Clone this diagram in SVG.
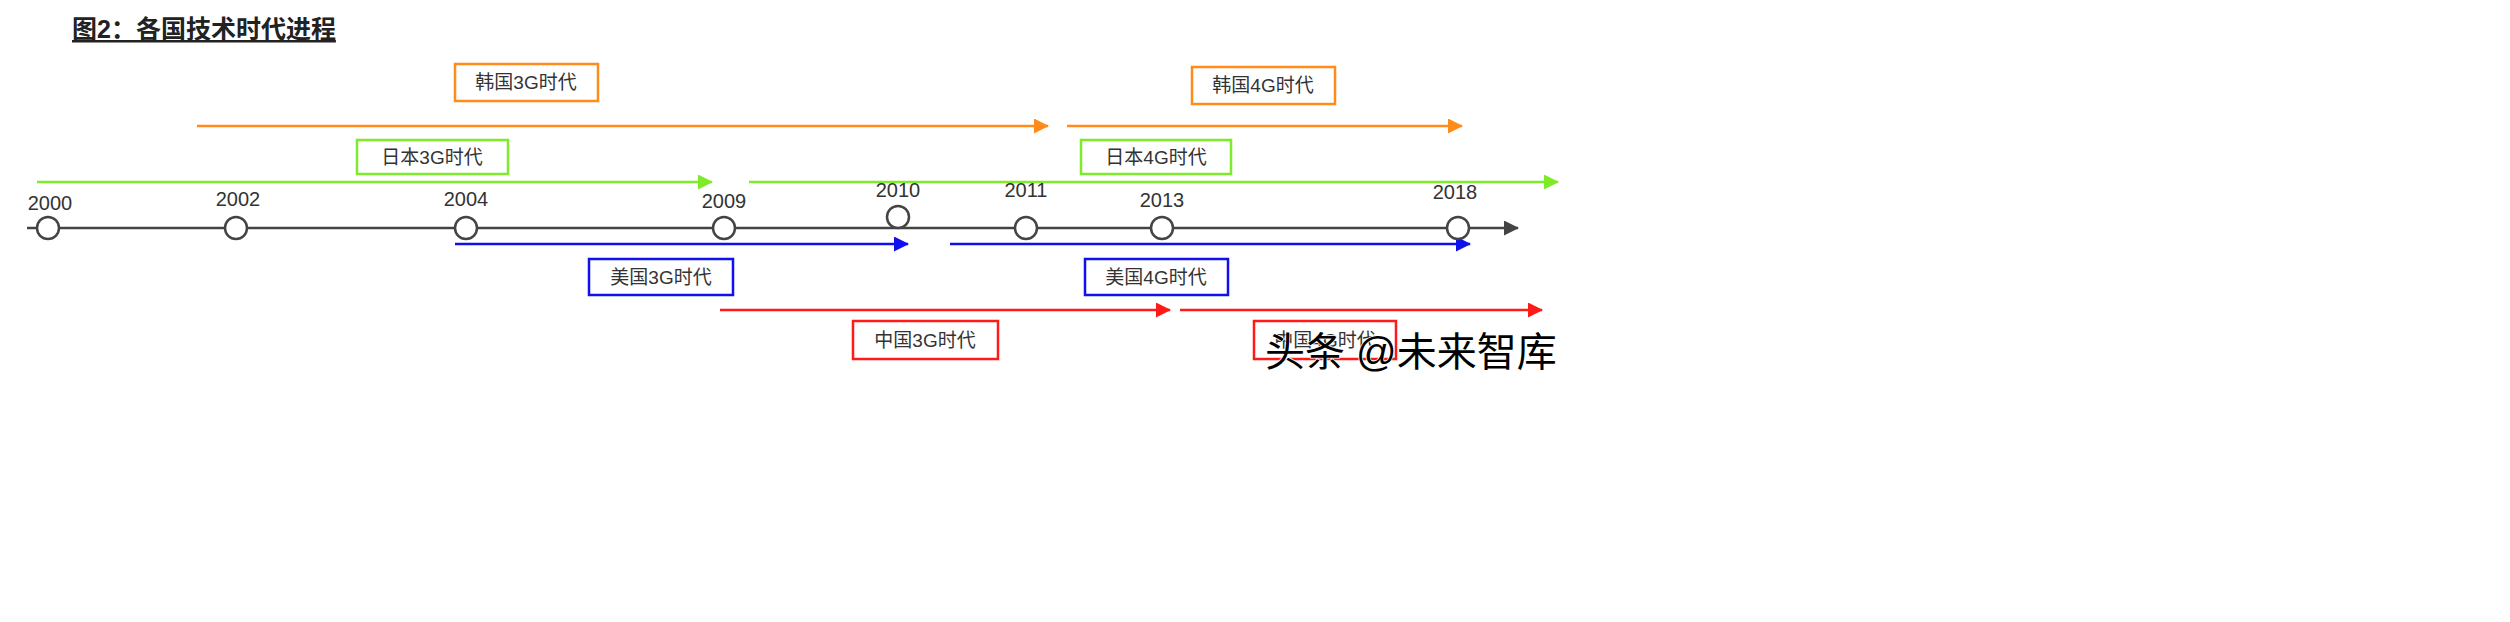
<svg xmlns="http://www.w3.org/2000/svg" width="2510" height="622" viewBox="0 0 2510 622">
<style>
text{font-family:"Liberation Sans","Noto Sans CJK SC",sans-serif}
.lbl{font-size:19px;fill:#333;text-anchor:middle}
.yr{font-size:20px;fill:#333;text-anchor:middle}
.box{fill:#fff;stroke-width:2.5}
.dot{fill:#fff;stroke:#444;stroke-width:2.5}
.ln{fill:none;stroke-width:2.5}
</style>
<defs>
<marker id="mo" viewBox="0 0 10 10" refX="9" refY="5" markerWidth="6" markerHeight="5" orient="auto" markerUnits="userSpaceOnUse" style="overflow:visible"><path d="M0,0L10,5L0,10z" fill="#ff8c1a" transform="scale(1.5)"/></marker>
<marker id="mg" viewBox="0 0 15 15" refX="14" refY="7.5" markerWidth="15" markerHeight="15" orient="auto" markerUnits="userSpaceOnUse"><path d="M0,0L15,7.5L0,15z" fill="#7fea2a"/></marker>
<marker id="mb" viewBox="0 0 15 15" refX="14" refY="7.5" markerWidth="15" markerHeight="15" orient="auto" markerUnits="userSpaceOnUse"><path d="M0,0L15,7.5L0,15z" fill="#1010ee"/></marker>
<marker id="mr" viewBox="0 0 15 15" refX="14" refY="7.5" markerWidth="15" markerHeight="15" orient="auto" markerUnits="userSpaceOnUse"><path d="M0,0L15,7.5L0,15z" fill="#ff1a1a"/></marker>
<marker id="mk" viewBox="0 0 15 15" refX="14" refY="7.5" markerWidth="15" markerHeight="15" orient="auto" markerUnits="userSpaceOnUse"><path d="M0,0L15,7.5L0,15z" fill="#444"/></marker>
<marker id="mo2" viewBox="0 0 15 15" refX="14" refY="7.5" markerWidth="15" markerHeight="15" orient="auto" markerUnits="userSpaceOnUse"><path d="M0,0L15,7.5L0,15z" fill="#ff8c1a"/></marker>
</defs>
<rect width="2510" height="622" fill="#fff"/>
<g id="title"><text x="72" y="38" font-size="25" font-weight="bold" fill="#222" text-decoration="underline">图2：各国技术时代进程</text></g>
<g id="connectors">
<line class="ln" x1="27" y1="228" x2="1518" y2="228" stroke="#444" marker-end="url(#mk)"/>
<line class="ln" x1="197" y1="126" x2="1048" y2="126" stroke="#ff8c1a" marker-end="url(#mo2)"/>
<line class="ln" x1="1067" y1="126" x2="1462" y2="126" stroke="#ff8c1a" marker-end="url(#mo2)"/>
<line class="ln" x1="37" y1="182" x2="712" y2="182" stroke="#7fea2a" marker-end="url(#mg)"/>
<line class="ln" x1="749" y1="182" x2="1558" y2="182" stroke="#7fea2a" marker-end="url(#mg)"/>
<line class="ln" x1="455" y1="244" x2="908" y2="244" stroke="#1010ee" marker-end="url(#mb)"/>
<line class="ln" x1="950" y1="244" x2="1470" y2="244" stroke="#1010ee" marker-end="url(#mb)"/>
<line class="ln" x1="720" y1="310" x2="1170" y2="310" stroke="#ff1a1a" marker-end="url(#mr)"/>
<line class="ln" x1="1180" y1="310" x2="1542" y2="310" stroke="#ff1a1a" marker-end="url(#mr)"/>
</g>
<g id="y2000"><circle class="dot" cx="48" cy="228" r="11"/><text class="yr" x="50" y="210">2000</text></g>
<g id="y2002"><circle class="dot" cx="236" cy="228" r="11"/><text class="yr" x="238" y="206">2002</text></g>
<g id="y2004"><circle class="dot" cx="466" cy="228" r="11"/><text class="yr" x="466" y="206">2004</text></g>
<g id="y2009"><circle class="dot" cx="724" cy="228" r="11"/><text class="yr" x="724" y="208">2009</text></g>
<g id="y2010"><circle class="dot" cx="898" cy="217" r="11"/><text class="yr" x="898" y="197">2010</text></g>
<g id="y2011"><circle class="dot" cx="1026" cy="228" r="11"/><text class="yr" x="1026" y="197">2011</text></g>
<g id="y2013"><circle class="dot" cx="1162" cy="228" r="11"/><text class="yr" x="1162" y="207">2013</text></g>
<g id="y2018"><circle class="dot" cx="1458" cy="228" r="11"/><text class="yr" x="1455" y="199">2018</text></g>
<g id="kr3g"><rect class="box" x="455" y="64" width="143" height="37" stroke="#ff8c1a"/><text class="lbl" x="526" y="89">韩国3G时代</text></g>
<g id="kr4g"><rect class="box" x="1192" y="67" width="143" height="37" stroke="#ff8c1a"/><text class="lbl" x="1263" y="92">韩国4G时代</text></g>
<g id="jp3g"><rect class="box" x="357" y="140" width="151" height="34" stroke="#7fea2a"/><text class="lbl" x="432" y="164">日本3G时代</text></g>
<g id="jp4g"><rect class="box" x="1081" y="140" width="150" height="34" stroke="#7fea2a"/><text class="lbl" x="1156" y="164">日本4G时代</text></g>
<g id="us3g"><rect class="box" x="589" y="259" width="144" height="36" stroke="#1010ee"/><text class="lbl" x="661" y="284">美国3G时代</text></g>
<g id="us4g"><rect class="box" x="1085" y="259" width="143" height="36" stroke="#1010ee"/><text class="lbl" x="1156" y="284">美国4G时代</text></g>
<g id="cn3g"><rect class="box" x="853" y="321" width="145" height="38" stroke="#ff1a1a"/><text class="lbl" x="925" y="347">中国3G时代</text></g>
<g id="cn4g"><rect class="box" x="1254" y="321" width="142" height="38" stroke="#ff1a1a"/><text class="lbl" x="1325" y="347">中国4G时代</text></g>
<g id="watermark"><text x="1265" y="366" font-size="40" fill="#000" stroke="#fff" stroke-width="1.5" paint-order="stroke">头条 @未来智库</text></g>
</svg>
